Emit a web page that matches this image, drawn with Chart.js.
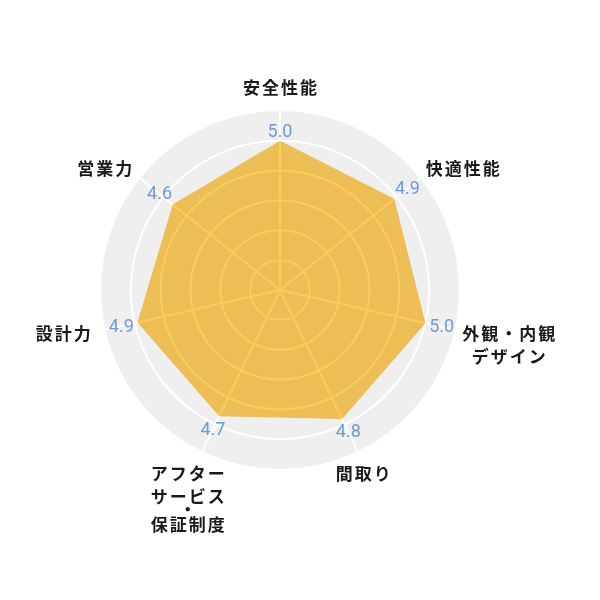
<!DOCTYPE html>
<html>
<head>
<meta charset="utf-8">
<script src="https://cdn.jsdelivr.net/npm/chart.js@4.4.1/dist/chart.umd.min.js"></script>
<style>
html,body{margin:0;padding:0;background:#ffffff;}
#wrap{width:600px;height:600px;}
</style>
</head>
<body>
<div id="wrap"><canvas id="c" width="600" height="600"></canvas></div>
<script>
// ---- data ----
const categories = [
  ['安全性能'],
  ['快適性能'],
  ['外観・内観', 'デザイン'],
  ['間取り'],
  ['アフター', 'サービス', '・', '保証制度'],
  ['設計力'],
  ['営業力']
];
const scores = [5.0, 4.9, 5.0, 4.8, 4.7, 4.9, 4.6];
const scaleMin = 0;
const scaleMax = 6;
const scaleStep = 1;

// ---- label drawing plugin ----
const nudgeX = [1, -6, -7, 0, -7, 2, 6];
const labelPlugin = {
  id: 'radarLabels',
  beforeDatasetsDraw(chart) {
    chart.ctx.save();
    chart.ctx.globalCompositeOperation = 'multiply';
  },
  afterDatasetsDraw(chart) {
    const ctx = chart.ctx;
    ctx.restore();
    const r = chart.scales.r;
    const meta = chart.getDatasetMeta(0);

    // value labels
    ctx.save();
    ctx.font = '18px Roboto, "Noto Sans", sans-serif';
    ctx.fillStyle = '#6b9bd8';
    ctx.textAlign = 'center';
    ctx.textBaseline = 'middle';
    meta.data.forEach((pt, i) => {
      const ang = r.getIndexAngle(i) - Math.PI / 2;
      const dx = Math.cos(ang), dy = Math.sin(ang);
      const txt = scores[i].toFixed(1);
      const w = ctx.measureText(txt).width, h = 13;
      const d = 3 + 0.5 * (w * Math.abs(dx) + h * Math.abs(dy));
      ctx.fillText(txt, pt.x + dx * d, pt.y + dy * d + 1);
    });
    ctx.restore();

    // point (category) labels
    ctx.save();
    ctx.font = 'bold 17px "Noto Sans CJK JP", sans-serif';
    try { ctx.letterSpacing = '2px'; } catch (e) {}
    ctx.fillStyle = '#1a1a1a';
    ctx.textBaseline = 'middle';
    ctx.textAlign = 'center';
    const outer = r.getDistanceFromCenterForValue(r.max) + 15;
    categories.forEach((lines, i) => {
      const ang = r.getIndexAngle(i) - Math.PI / 2;
      const dx = Math.cos(ang), dy = Math.sin(ang);
      const p = r.getPointPosition(i, outer);
      const offs = [0];
      for (let k = 1; k < lines.length; k++) {
        let adv = 23;
        if (lines[k] === '・') adv = 12.5;
        else if (lines[k - 1] === '・') adv = 15;
        offs.push(offs[k - 1] + adv);
      }
      const span = offs[offs.length - 1];
      const W = Math.max(...lines.map(l => ctx.measureText(l).width));
      let cx, y0;
      if (Math.abs(dx) < 0.01) {
        cx = p.x;
        y0 = dy < 0 ? p.y - 8 - span : p.y + 8;
      } else if (dy > 0.8) {
        cx = p.x;
        y0 = p.y + 9;
      } else {
        cx = dx > 0 ? p.x + W / 2 : p.x - W / 2;
        y0 = p.y;
      }
      cx += nudgeX[i];
      lines.forEach((l, k) => ctx.fillText(l, cx, y0 + offs[k]));
    });
    ctx.restore();
  }
};

new Chart(document.getElementById('c'), {
  type: 'radar',
  data: {
    labels: categories,
    datasets: [{
      data: scores,
      backgroundColor: '#fccb5a',
      borderWidth: 0,
      pointRadius: 0,
      pointHoverRadius: 0,
      fill: true
    }]
  },
  options: {
    responsive: false,
    animation: false,
    devicePixelRatio: 1,
    layout: { padding: { left: 101, right: 141, top: 111, bottom: 131 } },
    plugins: { legend: { display: false }, tooltip: { enabled: false } },
    scales: {
      r: {
        min: scaleMin,
        max: scaleMax,
        backgroundColor: '#efefef',
        ticks: { display: false, stepSize: scaleStep },
        pointLabels: { display: false },
        grid: {
          circular: true,
          lineWidth: 2,
          color: (c) => (c.tick && c.tick.value >= scaleMax) ? 'rgba(0,0,0,0)' : '#ffffff'
        },
        angleLines: { display: true, color: '#ffffff', lineWidth: 2 }
      }
    }
  },
  plugins: [labelPlugin]
});
</script>
</body>
</html>
